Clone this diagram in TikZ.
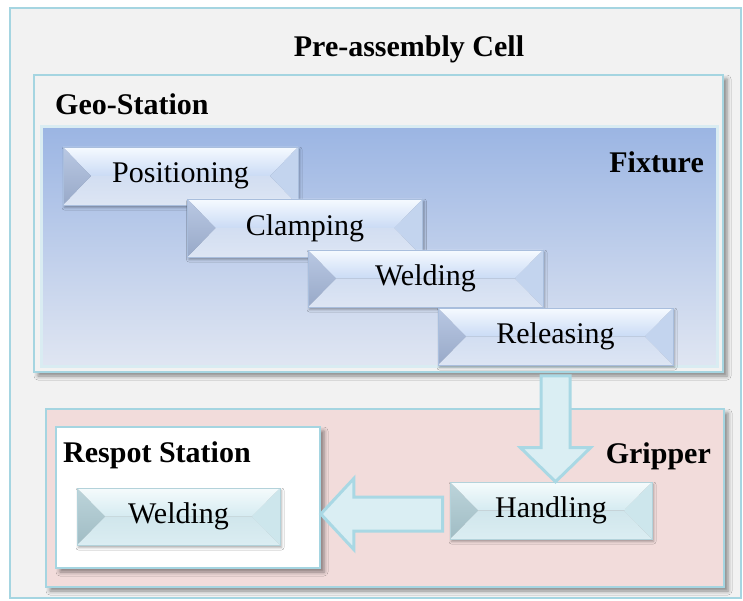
\documentclass[tikz,border=0pt]{standalone}
\usepackage{fontspec}
\setmainfont{Liberation Serif}
\usetikzlibrary{calc,shadows.blur}

% frames and panels
\definecolor{frameblue}{HTML}{A5D5E1}
\definecolor{panelgray}{HTML}{F2F2F2}
\definecolor{gripfill}{HTML}{F2DCDB}
\definecolor{fixtop}{HTML}{9BB5E3}
\definecolor{fixbot}{HTML}{E0E6F2}
\definecolor{fixedge}{HTML}{D9ECF2}
\definecolor{arrowfill}{HTML}{DAEEF3}
\definecolor{arrowline}{HTML}{A9D8E4}
% blue bevel buttons (fixture)
\definecolor{fxTopA}{HTML}{F6FAFF}
\definecolor{fxTopB}{HTML}{CADBF5}
\definecolor{fxBotA}{HTML}{D2DEF2}
\definecolor{fxBotB}{HTML}{DDE5F3}
\definecolor{fxLeftA}{HTML}{B9C8E3}
\definecolor{fxLeftB}{HTML}{98A9C8}
\definecolor{fxRight}{HTML}{C3D4EE}
\definecolor{fxLine}{HTML}{A9BEDD}
% cyan bevel buttons (gripper / respot)
\definecolor{grTopA}{HTML}{F5FBFC}
\definecolor{grTopB}{HTML}{D5EBF1}
\definecolor{grBotA}{HTML}{D0E6EC}
\definecolor{grBotB}{HTML}{DBEDF2}
\definecolor{grLeftA}{HTML}{BCD4DA}
\definecolor{grLeftB}{HTML}{A0BCC4}
\definecolor{grRight}{HTML}{CDE6EC}
\definecolor{grLine}{HTML}{B3D2DA}

\newcommand\btnfont{\fontsize{30}{36}\selectfont}
\newcommand\ttlfont{\fontsize{30}{36}\selectfont\bfseries}

\tikzset{
  panel/.style={draw=frameblue, line width=1.6pt, inner sep=0pt},
  panelshadow/.style={blur shadow={shadow xshift=4pt, shadow yshift=-4pt,
      shadow blur radius=4pt, shadow opacity=45}},
  title/.style={inner sep=0pt, font=\ttlfont},
  bevel/.style={
    draw=#1Line, line width=0.6pt, inner sep=0pt, font=\btnfont,
    blur shadow={shadow xshift=1.5pt, shadow yshift=-2.5pt,
      shadow blur radius=2.5pt, shadow opacity=35},
    path picture={
      \coordinate (nw) at (path picture bounding box.north west);
      \coordinate (ne) at (path picture bounding box.north east);
      \coordinate (sw) at (path picture bounding box.south west);
      \coordinate (se) at (path picture bounding box.south east);
      \coordinate (il) at ($(path picture bounding box.west)+(28,0)$);
      \coordinate (ir) at ($(path picture bounding box.east)+(-28,0)$);
      \shade[top color=#1TopA, bottom color=#1TopB] (nw) -- (ne) -- (ir) -- (il) -- cycle;
      \shade[top color=#1BotA, bottom color=#1BotB] (il) -- (ir) -- (se) -- (sw) -- cycle;
      \shade[top color=#1LeftA, bottom color=#1LeftB] (nw) -- (il) -- (sw) -- cycle;
      \fill[#1Right] (ne) -- (ir) -- (se) -- cycle;
    }},
  bigarrow/.style={fill=arrowfill, draw=arrowline, line width=3pt, line join=miter},
}

\begin{document}
\begin{tikzpicture}[x=1pt, y=-1pt]
\useasboundingbox (0,0) rectangle (743,601);

% outer cell
\node[panel, fill=panelgray, minimum width=731, minimum height=590]
  (cell) at (375.5,303) {};
\node[title, anchor=base] (celltitle) at (409,57) {Pre-assembly Cell};

% geo-station with its fixture
\node[panel, panelshadow, fill=panelgray, minimum width=689, minimum height=297]
  (geo) at (378.5,223.5) {};
\node[title, anchor=base west] (geotitle) at (55,115) {Geo-Station};
\node[draw=fixedge, line width=3pt, top color=fixtop, bottom color=fixbot,
  inner sep=0pt, minimum width=676, minimum height=240] (fix) at (379,246.5) {};
\node[title, anchor=base east] (fixtitle) at (704,173) {Fixture};

% fixture process steps
\node[bevel=fx, minimum width=235, minimum height=58] (pos) at (180.5,176) {Positioning};
\node[bevel=fx, minimum width=235, minimum height=58] (clamp) at (305,228) {Clamping};
\node[bevel=fx, minimum width=235, minimum height=57] (weld) at (425.5,278.5) {Welding};
\node[bevel=fx, minimum width=235, minimum height=57] (rel) at (555.5,336.5) {Releasing};

% gripper with the respot station
\node[panel, panelshadow, fill=gripfill, minimum width=678, minimum height=178]
  (grip) at (385,498) {};
\node[title, anchor=base east] (griptitle) at (711,463) {Gripper};
\node[panel, panelshadow, fill=white, minimum width=264, minimum height=141]
  (respot) at (188,497.5) {};
\node[title, anchor=base west] (respottitle) at (63,462) {Respot Station};

\node[bevel=gr, minimum width=203, minimum height=57] (weld2) at (178.5,516.5) {Welding};
\node[bevel=gr, minimum width=202, minimum height=57] (hand) at (551,510.5) {Handling};

% block arrows between stations
\coordinate (dA) at ($(geo.south -| rel.south)+(0,3)$);
\coordinate (dB) at (hand.north -| dA);
\draw[bigarrow]
  ($(dA)+(-14.5,0)$) -- ($(dB)+(-14.5,-34)$) -- ($(dB)+(-35,-34)$) -- (dB)
  -- ($(dB)+(35,-34)$) -- ($(dB)+(14.5,-34)$) -- ($(dA)+(14.5,0)$) -- cycle;

\coordinate (lA) at ($(hand.west)+(-7,3.5)$);
\coordinate (lB) at (respot.east |- lA);
\draw[bigarrow]
  ($(lA)+(0,-17)$) -- ($(lB)+(33,-17)$) -- ($(lB)+(33,-35.5)$) -- (lB)
  -- ($(lB)+(33,35.5)$) -- ($(lB)+(33,17)$) -- ($(lA)+(0,17)$) -- cycle;
\end{tikzpicture}
\end{document}
